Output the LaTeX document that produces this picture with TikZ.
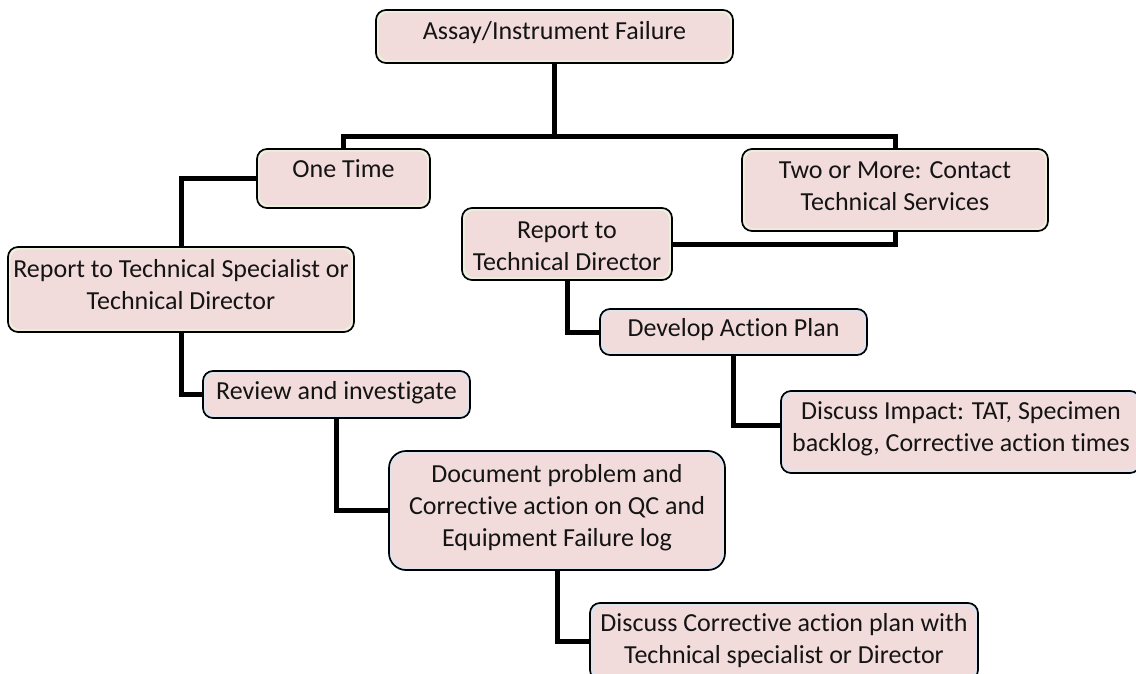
\documentclass[tikz,border=0pt]{standalone}
\usepackage{fontspec}
\setmainfont{Carlito}[Ligatures=NoCommon]
\definecolor{pinkfill}{HTML}{F2DCDB}
\definecolor{greenedge}{HTML}{EBF1DE}
\definecolor{blueedge}{HTML}{DBE5F1}
\begin{document}
\begin{tikzpicture}[x=1pt,y=-1pt,
  box/.style={draw=black, line width=1.7pt, rounded corners=#1, fill=greenedge, inner sep=0pt,
    path picture={\fill[pinkfill, rounded corners=#1] ([shift={(2.6pt,-2.6pt)}]path picture bounding box.north west) rectangle ([shift={(-2.6pt,2.6pt)}]path picture bounding box.south east);}},
  box/.default=10pt,
  bluebox/.style={box=#1, fill=blueedge},
  bluebox/.default=10pt,
  txt/.style={inner sep=0pt, align=center, font=\fontsize{26}{32}\selectfont, text=black!92},
  conn/.style={draw=black, line width=5pt, line join=miter}]
\useasboundingbox (0,0) rectangle (1136,674);
% boxes
\node[box, minimum width=357pt, minimum height=53pt] (top) at (554.5,36.5) {};
\node[box, minimum width=173pt, minimum height=59pt] (ot) at (343.5,178.5) {};
\node[box, minimum width=306pt, minimum height=82pt] (tm) at (895,190) {};
\node[box, minimum width=210pt, minimum height=72pt] (rtd) at (567,244) {};
\node[box, minimum width=346pt, minimum height=85pt] (rts) at (181,289.5) {};
\node[bluebox, minimum width=267pt, minimum height=46pt] (dev) at (733.5,332) {};
\node[bluebox, minimum width=267pt, minimum height=47pt] (rev) at (336.5,394.5) {};
\node[bluebox, minimum width=359pt, minimum height=82pt] (imp) at (960.5,432) {};
\node[bluebox=17pt, minimum width=336pt, minimum height=119pt] (doc) at (557,510.5) {};
\node[bluebox, minimum width=388pt, minimum height=77pt] (dcp) at (784,641.5) {};
% texts
\node[txt] (ttop) at (554.5,33) {Assay/Instrument Failure};
\node[txt] (tot) at (343.5,169) {One Time};
\node[txt] (ttm) at (895,186) {Two or More: Contact\\Technical Services};
\node[txt] (trtd) at (567,246.5) {Report to\\Technical Director};
\node[txt] (trts) at (181,285) {Report to Technical Specialist or\\Technical Director};
\node[txt] (tdev) at (733.5,330) {Develop Action Plan};
\node[txt] (trev) at (336.5,393) {Review and investigate};
\node[txt] (timp) at (961,429) {Discuss Impact: TAT, Specimen\\backlog, Corrective action times};
\node[txt] (tdoc) at (557,508) {Document problem and\\Corrective action on QC and\\Equipment Failure log};
\node[txt] (tdcp) at (784,641) {Discuss Corrective action plan with\\Technical specialist or Director};
% connectors
\coordinate (j) at (554.5,137);
\draw[conn] (top.south) -- (j);
\draw[conn] (ot.north) |- (j);
\draw[conn] (tm.north) |- (j);
\draw[conn] (ot.west) -| (rts.north);
\draw[conn] (tm.south) |- (rtd.east);
\draw[conn] (rts.south) |- (rev.west);
\draw[conn] (rtd.south) |- (dev.west);
\draw[conn] (rev.south) |- (doc.west);
\draw[conn] (dev.south) |- ([yshift=7pt]imp.west);
\draw[conn] (doc.south) |- (dcp.west);
\end{tikzpicture}
\end{document}
